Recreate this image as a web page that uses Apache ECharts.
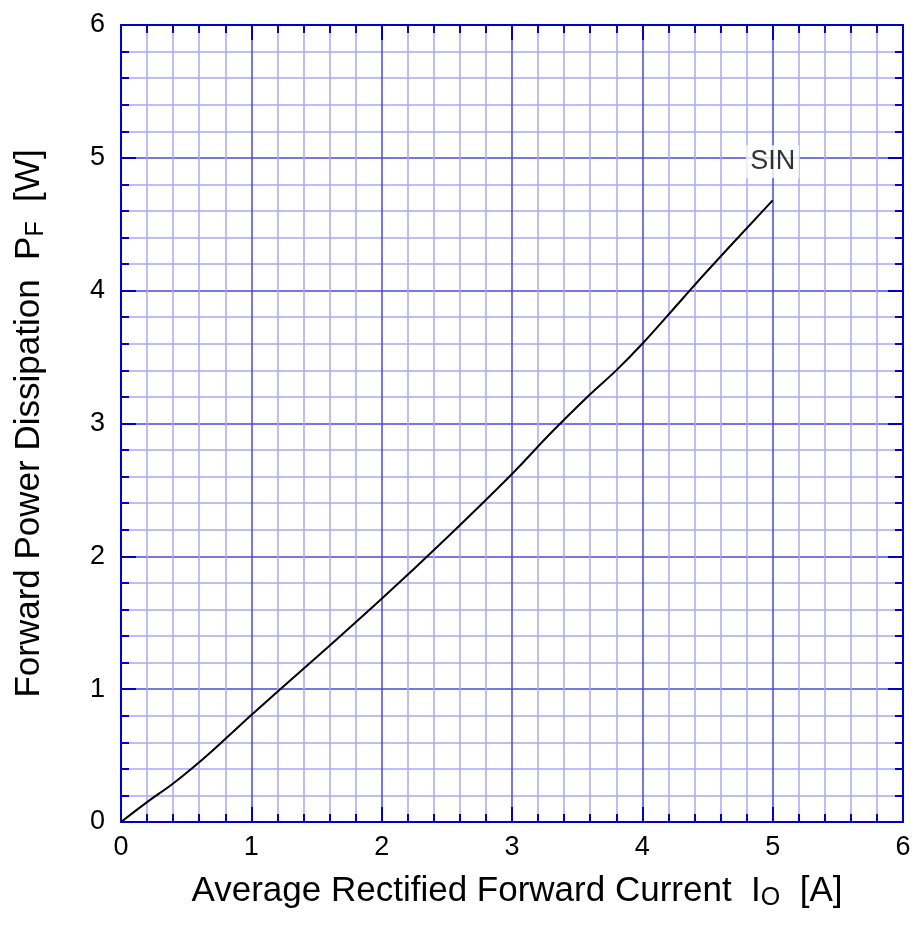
<!DOCTYPE html>
<html><head><meta charset="utf-8">
<script src="https://cdn.jsdelivr.net/npm/echarts@6/dist/echarts.min.js"></script>
<style>html,body{margin:0;padding:0;background:#fff}#c{width:917px;height:944px}</style>
</head><body><div id="c"></div>
<script>
var currentA = [0, 0.2, 0.4, 0.6, 0.8, 1.0, 1.2, 1.5, 2.0, 2.5, 3.0, 3.3, 3.6, 3.8, 4.0, 4.3, 4.5, 5.0];
var powerW  = [0, 0.15, 0.29, 0.45, 0.625, 0.805, 0.98, 1.24, 1.68, 2.14, 2.62, 2.93, 3.22, 3.40, 3.60, 3.93, 4.15, 4.68];
var curveLabel = 'SIN';
var curveLabelPos = [5.0, 4.97];
var tickLabels = ['0','1','2','3','4','5','6'];

var pts = currentA.map(function(x,i){return [x, powerW[i]];});
var font = 'Liberation Sans, Arial, sans-serif';
var axisBlue = '#0000cc';
function axisCommon(show){
  return {
    type:'value', min:0, max:6, interval:1,
    axisLine:{show:true, onZero:false, lineStyle:{color:axisBlue, width:2}},
    axisTick:{show:true, inside:true, length:15, lineStyle:{color:axisBlue, width:2}},
    minorTick:{show:true, splitNumber:5, length:8, lineStyle:{color:axisBlue, width:2}},
    splitLine:{show:show, lineStyle:{color:'#4848dc', width:1.5}},
    minorSplitLine:{show:show, lineStyle:{color:'#a9a9f2', width:1.5}},
    axisLabel:{show:show, color:'#000', fontSize:27, fontFamily:font, margin:16,
      formatter:function(v){return tickLabels[Math.round(v)];}}
  };
}
var rich = {n:{fontSize:35, fontFamily:font, color:'#000'}, s:{fontSize:25, fontFamily:font, color:'#000', verticalAlign:'bottom', padding:[14,0,0,0]}};
var xb = axisCommon(true);
xb.position='bottom';
xb.axisLabel.margin=12;
xb.name='{n|Average Rectified Forward Current  I}{s|O}{n|  [A]}';
xb.nameLocation='middle'; xb.nameGap=50;
xb.nameTextStyle={color:'#000', fontSize:35, fontFamily:font, rich:rich, padding:[0,0,0,10]};
var xt = axisCommon(false); xt.position='top';
var yl = axisCommon(true); yl.position='left';
yl.name='{n|Forward Power Dissipation  P}{s|F}{n|  [W]}';
yl.nameLocation='middle'; yl.nameGap=72; yl.nameRotate=90;
yl.nameTextStyle={color:'#000', fontSize:35, fontFamily:font, rich:rich};
var yr = axisCommon(false); yr.position='right';

var chart = echarts.init(document.getElementById('c'), null, {renderer:'canvas'});
chart.setOption({
  backgroundColor:'#fff',
  animation:false,
  grid:{left:121, top:25, right:14, bottom:122, containLabel:false},
  xAxis:[xb, xt],
  yAxis:[yl, yr],
  series:[
    {type:'line', data:pts, smooth:0.4, showSymbol:false, symbol:'none',
     lineStyle:{color:'#000', width:2}, z:5},
    {type:'scatter', data:[curveLabelPos], symbolSize:0.1, z:6, silent:true,
     label:{show:true, position:'inside', formatter:curveLabel, color:'#000', fontSize:27, fontFamily:font,
       textBorderWidth:0, backgroundColor:'#fff', padding:[3,4,3,4]}}
  ]
});
</script></body></html>
